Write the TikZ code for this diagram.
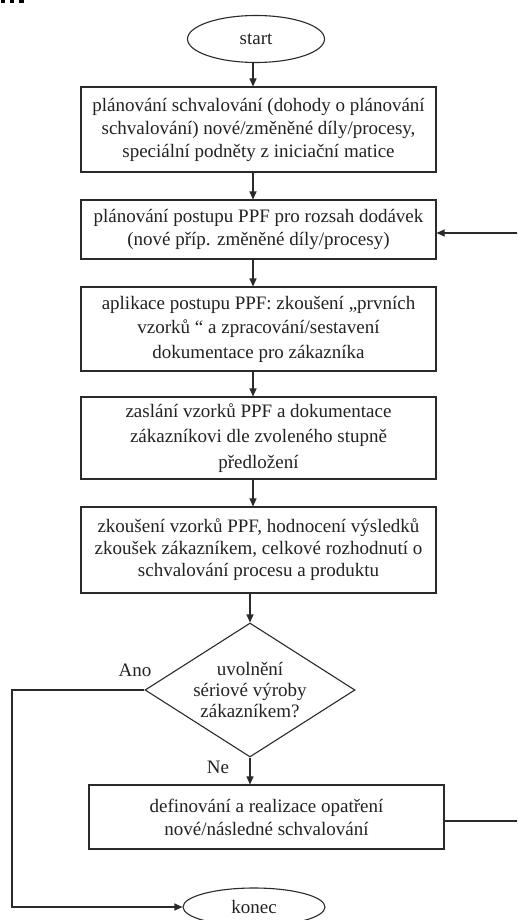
\documentclass[tikz,border=0pt]{standalone}
\usepackage{fontspec}
\setmainfont{Liberation Serif}
\usetikzlibrary{shapes.geometric,arrows.meta}
\definecolor{ln}{HTML}{2A2A2A}
\definecolor{tx}{HTML}{222222}
\tikzset{
  box/.style={draw=ln, line width=1.1pt, rectangle, minimum width=355pt, inner sep=0pt, align=center, text=tx, font=\fontsize{19}{23}\selectfont},
  term/.style={draw=ln, line width=1.1pt, ellipse, inner sep=0pt, text=tx, font=\fontsize{19}{23}\selectfont},
  dec/.style={draw=ln, line width=1.1pt, diamond, aspect=1.57, inner sep=0pt, minimum width=210pt, minimum height=134pt, align=center, text=tx, font=\fontsize{19}{21}\selectfont},
  lbl/.style={text=tx, inner sep=0pt, font=\fontsize{19}{23}\selectfont},
  arr/.style={draw=ln, line width=1.1pt, -{Triangle[length=8pt,width=7pt]}},
  lin/.style={draw=ln, line width=1.1pt}
}
\begin{document}
\begin{tikzpicture}[x=1pt,y=-1pt]
\useasboundingbox (0,0) rectangle (517,920);
\clip (0,0) rectangle (517,920);
\fill[white] (0,0) rectangle (517,920);
% cropped fragment at top-left
\fill[black] (1,0) rectangle (5,3);
\fill[black] (10,0) rectangle (14,3);
\fill[black] (19,0) rectangle (24,3);

\node[term, minimum width=137pt, minimum height=47pt] (start) at (256,39) {start};
\node[box, minimum height=85pt] (b1) at (258.5,129.5) {plánování schvalování (dohody o plánování\\schvalování) nové/změněné díly/procesy,\\speciální podněty z iniciační matice};
\node[box, minimum height=59pt] (b2) at (258.5,229.5) {plánování postupu PPF pro rozsah dodávek\\(nové příp. změněné díly/procesy)};
\node[box, minimum height=84pt, font=\fontsize{19}{24.5}\selectfont] (b3) at (258.5,329) {aplikace postupu PPF: zkoušení „prvních\\vzorků “ a zpracování/sestavení\\dokumentace pro zákazníka};
\node[box, minimum height=82pt, font=\fontsize{19}{25.5}\selectfont] (b4) at (258.5,438) {zaslání vzorků PPF a dokumentace\\zákazníkovi dle zvoleného stupně\\předložení};
\node[box, minimum height=86pt, font=\fontsize{19}{22}\selectfont] (b5) at (258.5,550) {zkoušení vzorků PPF, hodnocení výsledků\\zkoušek zákazníkem, celkové rozhodnutí o\\schvalování procesu a produktu};
\node[dec] (d) at (250,690) {uvolnění\\sériové výroby\\zákazníkem?};
\node[box, minimum height=64pt] (b6) at (266.5,817) {definování a realizace opatření\\nové/následné schvalování};
\node[term, minimum width=142pt, minimum height=38pt] (konec) at (254,907) {konec};

\node[lbl] (ano) at (135,670) {Ano};
\node[lbl] (ne) at (218,767) {Ne};

\coordinate (fb1) at (530,821);
\coordinate (fb2) at (530,233);
\coordinate (lp) at (12,690);

\draw[arr] (253,0 |- start.south) -- (253,0 |- b1.north);
\draw[arr] (253,0 |- b1.south) -- (253,0 |- b2.north);
\draw[arr] (253,0 |- b2.south) -- (253,0 |- b3.north);
\draw[arr] (253,0 |- b3.south) -- (253,0 |- b4.north);
\draw[arr] (253,0 |- b4.south) -- (253,0 |- b5.north);
\draw[arr] (d.north |- b5.south) -- (d.north);
\draw[arr] (d.south) -- (d.south |- b6.north);
\draw[lin] (b6.east |- fb1) -- (fb1) -- (fb2);
\draw[arr] (fb2) -- (b2.east |- fb2);
\draw[arr] (d.west) -- (lp) -- (lp |- konec.west) -- (konec.west);
\end{tikzpicture}
\end{document}
